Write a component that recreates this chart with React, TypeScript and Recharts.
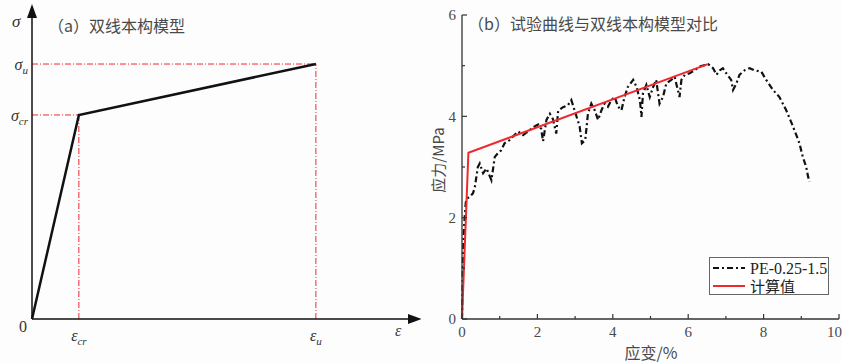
import React from "react";
import { LineChart, Line, XAxis, YAxis, ReferenceLine, ReferenceDot } from "recharts";

// panel (a): schematic bilinear model (arbitrary units)
const modelStrain = [0, 1.24, 7.51];
const modelStress = [0, 6.69, 8.36];

// panel (b): test curve PE-0.25-1.5 (strain %, stress MPa)
const testStrain = [0, 0.01, 0.02, 0.03, 0.05, 0.07, 0.1, 0.14, 0.2, 0.29, 0.34, 0.42, 0.47, 0.56, 0.65, 0.78, 0.87, 0.95, 1.04, 1.13, 1.26, 1.35, 1.49, 1.62, 1.75, 1.88, 2.02, 2.1, 2.15, 2.24, 2.33, 2.41, 2.5, 2.55, 2.68, 2.81, 2.9, 2.99, 3.12, 3.18, 3.27, 3.34, 3.43, 3.52, 3.61, 3.7, 3.78, 3.87, 3.96, 4.05, 4.14, 4.23, 4.31, 4.4, 4.54, 4.63, 4.72, 4.76, 4.8, 4.89, 4.98, 5.07, 5.15, 5.24, 5.33, 5.42, 5.55, 5.64, 5.77, 5.82, 5.91, 6.04, 6.17, 6.3, 6.44, 6.53, 6.66, 6.75, 6.84, 6.92, 7.01, 7.14, 7.19, 7.28, 7.36, 7.5, 7.63, 7.76, 7.94, 8.07, 8.25, 8.42, 8.6, 8.78, 8.95, 9.04, 9.13, 9.18, 9.22];
const testStress = [0, 0.4, 0.9, 1.4, 1.75, 2.0, 2.3, 2.38, 2.41, 2.48, 2.6, 3.0, 3.07, 2.88, 2.97, 2.74, 3.2, 3.27, 3.33, 3.47, 3.53, 3.6, 3.7, 3.63, 3.7, 3.78, 3.84, 3.75, 3.51, 3.93, 4.05, 3.95, 3.66, 4.11, 4.18, 4.22, 4.32, 4.11, 3.8, 3.47, 3.53, 4.05, 4.25, 4.12, 3.93, 4.12, 4.25, 4.19, 4.32, 4.38, 4.19, 4.12, 4.38, 4.58, 4.72, 4.58, 4.32, 3.99, 4.45, 4.62, 4.38, 4.58, 4.72, 4.25, 4.38, 4.65, 4.72, 4.78, 4.38, 4.72, 4.82, 4.85, 4.91, 4.98, 5.01, 5.03, 4.95, 4.82, 4.91, 4.95, 4.85, 4.72, 4.52, 4.65, 4.82, 4.91, 4.95, 4.91, 4.88, 4.72, 4.52, 4.38, 4.12, 3.8, 3.47, 3.2, 3.0, 2.81, 2.71];

// calculated bilinear
const calcStrain = [0, 0.17, 6.52];
const calcStress = [0, 3.28, 5.03];

const xTicksB = [0, 1, 2, 3, 4, 5, 6, 7, 8, 9, 10];
const yTicksB = [0, 1, 2, 3, 4, 5, 6];

const modelData = modelStrain.map((x, i) => ({ x, y: modelStress[i] }));
const testData = testStrain.map((x, i) => ({ x, y: testStress[i] }));
const calcData = calcStrain.map((x, i) => ({ x, y: calcStress[i] }));

const serif = "'Liberation Serif', 'DejaVu Serif', serif";
const cjk = "'Noto Sans CJK SC', sans-serif";
const RED = "#ee2a2f";
const TXT = "#4a4a4a";

const SymTick = ({ x, y, payload, sym, subs, vals, anchor }: any) => {
  const i = vals.indexOf(payload.value);
  return (
    <text x={x} y={y} dy="0.35em" textAnchor={anchor} fontFamily={serif} fontStyle="italic" fontSize={16} fill="#333">
      {sym}
      <tspan fontSize={11} dy={4}>{subs[i]}</tspan>
    </text>
  );
};

const BTickX = ({ x, y, payload }: any) => {
  const v = payload.value;
  const ay = y - 7;
  const last = v === 10;
  return (
    <g>
      <line x1={x} x2={x} y1={ay} y2={ay - (v % 2 === 0 ? 5 : 3)} stroke="#333" strokeWidth={1.2} />
      {v % 2 === 0 && (
        <text x={last ? x + 3 : x} y={y} dy="0.71em" textAnchor={last ? "end" : "middle"} fontFamily={serif} fontSize={15} fill={TXT}>{v}</text>
      )}
    </g>
  );
};

const BTickY = ({ x, y, payload }: any) => {
  const v = payload.value;
  const ax = x + 6;
  return (
    <g>
      <line x1={ax} x2={ax + (v % 2 === 0 ? 5 : 3)} y1={y} y2={y} stroke="#333" strokeWidth={1.2} />
      {v % 2 === 0 && (
        <text x={x} y={y} dy="0.35em" textAnchor="end" fontFamily={serif} fontSize={15} fill={TXT}>{v}</text>
      )}
    </g>
  );
};

const abs = (left: number, top: number, extra: React.CSSProperties = {}): React.CSSProperties => ({
  position: "absolute", left, top, whiteSpace: "nowrap", lineHeight: 1, ...extra,
});

export default function App() {
  return (
    <div style={{ position: "relative", width: 842, height: 363, background: "#fdfdfd" }}>
      <style>{`body{margin:0}`}</style>
      <div style={{ position: "absolute", left: 0, top: 0 }}>
        <LineChart width={421} height={363} margin={{ top: 14, right: 11, bottom: 0, left: 0 }}>
          <XAxis
            type="number" dataKey="x" domain={[0, 10]} height={44}
            ticks={[modelStrain[1], modelStrain[2]]} tickLine={false} tickSize={0} tickMargin={16}
            axisLine={{ stroke: "#111", strokeWidth: 1.5 }}
            tick={<SymTick sym="ε" subs={["cr", "u"]} vals={[modelStrain[1], modelStrain[2]]} anchor="middle" />}
          />
          <YAxis
            type="number" dataKey="y" domain={[0, 10]} width={32}
            ticks={[modelStress[1], modelStress[2]]} tickLine={false} tickSize={0} tickMargin={4}
            axisLine={{ stroke: "#111", strokeWidth: 1.5 }}
            tick={<SymTick sym="σ" subs={["cr", "u"]} vals={[modelStress[1], modelStress[2]]} anchor="end" />}
          />
          <ReferenceLine segment={[{ x: 0, y: modelStress[1] }, { x: modelStrain[1], y: modelStress[1] }]} stroke={RED} strokeDasharray="6 2 1 2" />
          <ReferenceLine segment={[{ x: modelStrain[1], y: 0 }, { x: modelStrain[1], y: modelStress[1] }]} stroke={RED} strokeDasharray="6 2 1 2" />
          <ReferenceLine segment={[{ x: 0, y: modelStress[2] }, { x: modelStrain[2], y: modelStress[2] }]} stroke={RED} strokeDasharray="6 2 1 2" />
          <ReferenceLine segment={[{ x: modelStrain[2], y: 0 }, { x: modelStrain[2], y: modelStress[2] }]} stroke={RED} strokeDasharray="6 2 1 2" />
          <Line data={modelData} dataKey="y" stroke="#111" strokeWidth={2.5} dot={false} isAnimationActive={false} />
          <ReferenceDot x={10} y={0} ifOverflow="visible"
            shape={(p: any) => <path d={`M${p.cx + 12},${p.cy} L${p.cx - 2},${p.cy - 5} L${p.cx - 2},${p.cy + 5} Z`} fill="#111" />} />
          <ReferenceDot x={0} y={10} ifOverflow="visible"
            shape={(p: any) => <path d={`M${p.cx},${p.cy - 10} L${p.cx - 5},${p.cy + 4} L${p.cx + 5},${p.cy + 4} Z`} fill="#111" />} />
        </LineChart>
      </div>
      <div style={abs(48, 17, { fontFamily: cjk, fontSize: 16, color: TXT })}>（a）双线本构模型</div>
      <div style={abs(12, 13, { fontFamily: serif, fontStyle: "italic", fontSize: 17, color: "#333" })}>σ</div>
      <div style={abs(19, 319, { fontFamily: serif, fontSize: 16, color: "#333" })}>0</div>
      <div style={abs(395, 323, { fontFamily: serif, fontStyle: "italic", fontSize: 16, color: "#444" })}>ε</div>

      <div style={{ position: "absolute", left: 421, top: 0 }}>
        <LineChart width={421} height={363} margin={{ top: 15, right: 3, bottom: 0, left: 0 }}>
          <XAxis
            type="number" dataKey="x" domain={[0, 10]} height={44} ticks={xTicksB} interval={0}
            tickLine={false} tickSize={0} tickMargin={7}
            axisLine={{ stroke: "#333", strokeWidth: 1.3 }} tick={<BTickX />}
          />
          <YAxis
            type="number" dataKey="y" domain={[0, 6]} width={41} ticks={yTicksB} interval={0}
            tickLine={false} tickSize={0} tickMargin={6}
            axisLine={{ stroke: "#333", strokeWidth: 1.3 }} tick={<BTickY />}
          />
          <Line data={testData} dataKey="y" name="PE-0.25-1.5" stroke="#111" strokeWidth={2.2} strokeDasharray="6 3 2 3" dot={false} isAnimationActive={false} />
          <Line data={calcData} dataKey="y" name="计算值" stroke={RED} strokeWidth={2} dot={false} isAnimationActive={false} />
        </LineChart>
      </div>
      <div style={abs(468, 15, { fontFamily: cjk, fontSize: 16, color: TXT })}>（b）试验曲线与双线本构模型对比</div>
      <div style={abs(437, 160, { fontFamily: cjk, fontSize: 15, color: TXT, transform: "translate(-50%,-50%) rotate(-90deg)" })}>应力/MPa</div>
      <div style={abs(651, 352, { fontFamily: cjk, fontSize: 16, color: TXT, transform: "translate(-50%,-50%)" })}>应变/%</div>
      <div style={{ position: "absolute", left: 709, top: 257, width: 120, height: 38, border: "1px solid #666", background: "#fff", boxSizing: "border-box" }}>
        <svg width={36} height={38} style={{ position: "absolute", left: 1, top: 0 }}>
          <line x1={2} x2={34} y1={10} y2={10} stroke="#111" strokeWidth={2.2} strokeDasharray="6 3 2 3" />
          <line x1={2} x2={34} y1={28} y2={28} stroke={RED} strokeWidth={2} />
        </svg>
        <div style={abs(40, 3, { fontFamily: serif, fontSize: 16, color: "#222" })}>PE-0.25-1.5</div>
        <div style={abs(40, 20, { fontFamily: cjk, fontSize: 15, color: "#222" })}>计算值</div>
      </div>
    </div>
  );
}
